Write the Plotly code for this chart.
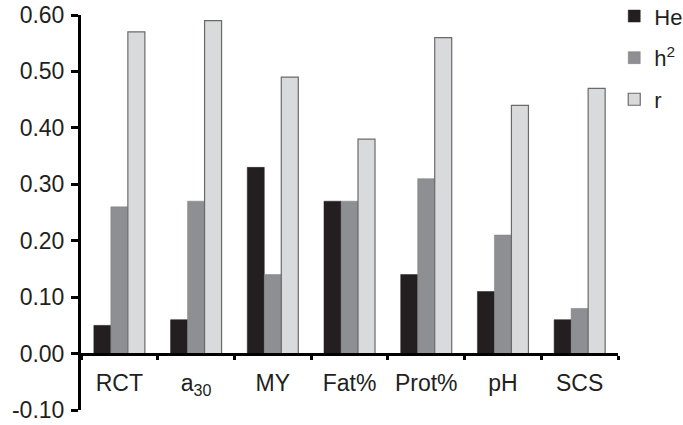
import plotly.graph_objects as go

categories = ["RCT", "a<sub>30</sub>", "MY", "Fat%", "Prot%", "pH", "SCS"]
he_values = [0.05, 0.06, 0.33, 0.27, 0.14, 0.11, 0.06]
h2_values = [0.26, 0.27, 0.14, 0.27, 0.31, 0.21, 0.08]
r_values = [0.57, 0.59, 0.49, 0.38, 0.56, 0.44, 0.47]
series_names = ["He", "h<sup>2</sup>", "r"]
y_ticks = [-0.1, 0.0, 0.1, 0.2, 0.3, 0.4, 0.5, 0.6]
y_tick_labels = ["-0.10", "0.00", "0.10", "0.20", "0.30", "0.40", "0.50", "0.60"]

FONT = "Liberation Sans, Arial, sans-serif"
TXT = "#231f20"

fig = go.Figure()
styles = [
    dict(color="#231f20", line=dict(color="#231f20", width=0.5)),
    dict(color="#8e8f92", line=dict(color="#7a7b7e", width=0.5)),
    dict(color="#d9dadc", line=dict(color="#6a6a6a", width=1.2)),
]
for i, (name, vals) in enumerate(zip(series_names, [he_values, h2_values, r_values])):
    fig.add_trace(go.Bar(
        x=categories, y=vals, name=name, marker=styles[i],
        legendgroup=f"g{i}",
    ))

W, H = 683, 425
ml, mt = 81, 15
plot_right, plot_bottom = 618, 410.5
mr, mb = W - plot_right, H - plot_bottom
ymin, ymax = -0.1, 0.6
# position of the x axis (at y=0) in paper coordinates
pos0 = (0 - ymin) / (ymax - ymin)

fig.update_layout(
    width=W, height=H,
    margin=dict(l=ml, r=mr, t=mt, b=mb, pad=0, autoexpand=False),
    paper_bgcolor="white", plot_bgcolor="white",
    barmode="group", bargap=0.335, bargroupgap=0,
    font=dict(family=FONT, size=23, color=TXT),
    showlegend=True,
    legend=dict(
        x=0.993, y=1.05, xanchor="left", yanchor="top",
        font=dict(size=22, color=TXT),
        traceorder="grouped", tracegroupgap=10,
        bgcolor="rgba(0,0,0,0)", itemwidth=30,
    ),
    xaxis=dict(
        type="category",
        anchor="free", position=pos0,
        showline=True, linecolor="#000", linewidth=3,
        ticks="outside", tickson="boundaries", ticklen=4, tickwidth=2.5, tickcolor="#000",
        showgrid=False, zeroline=False,
        tickfont=dict(size=23, color=TXT),
        tickangle=0, automargin=False,
        ticklabelstandoff=8,
        range=[-0.5, 6.5],
    ),
    yaxis=dict(
        range=[ymin, ymax],
        tickvals=y_ticks, ticktext=y_tick_labels,
        showline=True, linecolor="#000", linewidth=3,
        ticks="outside", ticklen=7, tickwidth=3, tickcolor="#000",
        showgrid=False, zeroline=False,
        tickfont=dict(size=23, color=TXT),
        automargin=False, ticklabeloverflow="allow",
        ticklabelstandoff=2,
    ),
)

fig.write_html(
    "out.html",
    config={"displayModeBar": False},
    post_script="document.body.style.margin='0px';document.body.style.overflow='hidden';",
)
